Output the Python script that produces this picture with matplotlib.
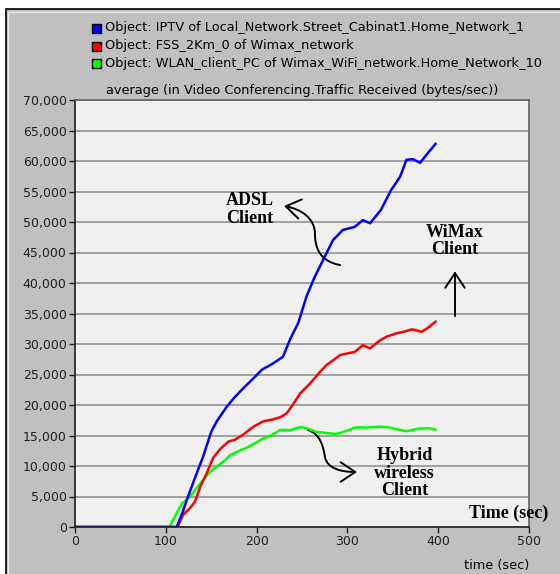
import matplotlib
matplotlib.use("Agg")
import matplotlib.pyplot as plt
from matplotlib.patches import Rectangle, FancyArrowPatch
from matplotlib.path import Path
from matplotlib.ticker import FuncFormatter, MultipleLocator

# time (sec) / traffic received (bytes/sec) for each node
iptv_t = [0, 112, 118, 123, 134, 141, 150, 156, 167, 176, 185, 198, 206, 218, 229, 237, 246,
          255, 264, 275, 284, 295, 308, 317, 325, 337, 348, 358, 365, 372, 380, 387, 397]
iptv_v = [0, 0, 2200, 4400, 8800, 11500, 15600, 17300, 19700, 21300, 22700, 24600, 25800, 26800,
          27900, 30800, 33500, 37800, 41000, 44300, 47000, 48700, 49200, 50300, 49800, 52000,
          55200, 57400, 60200, 60300, 59700, 61000, 62800]

fss_t = [0, 113, 119, 126, 132, 138, 145, 152, 160, 169, 176, 185, 196, 207, 218, 226, 233, 241,
         248, 259, 270, 277, 285, 292, 308, 317, 325, 336, 343, 354, 362, 371, 382, 390, 397]
fss_v = [0, 0, 2000, 3000, 4100, 6600, 8800, 11300, 12800, 14000, 14300, 15100, 16400, 17300,
         17650, 18000, 18600, 20300, 21900, 23550, 25450, 26550, 27400, 28200, 28700, 29800,
         29300, 30600, 31200, 31750, 32000, 32400, 32000, 32800, 33650]

wlan_t = [0, 104, 111, 118, 125, 132, 140, 149, 156, 165, 171, 180, 189, 198, 207, 216, 226, 238,
          248, 255, 266, 277, 288, 300, 310, 322, 336, 345, 355, 365, 380, 390, 397]
wlan_v = [0, 0, 2000, 3900, 4700, 6000, 7500, 9100, 9900, 10900, 11800, 12400, 13000, 13700,
          14500, 15000, 15900, 15900, 16400, 16200, 15600, 15400, 15250, 15800, 16350, 16300,
          16450, 16350, 16000, 15700, 16150, 16200, 15950]

legend_labels = [
    "Object: IPTV of Local_Network.Street_Cabinat1.Home_Network_1",
    "Object: FSS_2Km_0 of Wimax_network",
    "Object: WLAN_client_PC of Wimax_WiFi_network.Home_Network_10",
]
colors = ["#0000ff", "#ff0000", "#00ff00"]

W, H = 560, 574
fig = plt.figure(figsize=(W / 100, H / 100), dpi=100, facecolor="white")

# grey panel with dark frame
fig.patches.append(Rectangle((5.5 / W, -0.1), 1.2, 1 - 8.5 / H + 0.1, transform=fig.transFigure,
                             facecolor="#c0c0c0", edgecolor="black", linewidth=1.2, zorder=-10))
fig.patches.append(Rectangle((7.5 / W, -0.1), 1.2, 1 - 11.5 / H + 0.1, transform=fig.transFigure,
                             facecolor="none", edgecolor="#e8e8e8", linewidth=1.0, zorder=-9))

ax = fig.add_axes([75 / W, 1 - 527 / H, (529 - 75) / W, (527 - 100) / H])
ax.set_facecolor("#f0f0f0")

ax.plot(wlan_t, wlan_v, color=colors[2], lw=1.8)
ax.plot(fss_t, fss_v, color=colors[1], lw=1.8)
ax.plot(iptv_t, iptv_v, color=colors[0], lw=1.8)

ax.set_xlim(0, 500)
ax.set_ylim(0, 70000)
ax.xaxis.set_major_locator(MultipleLocator(100))
ax.yaxis.set_major_locator(MultipleLocator(5000))
ax.yaxis.set_major_formatter(FuncFormatter(lambda v, p: f"{int(v):,}"))
ax.grid(axis="y", color="#9a9a9a", lw=1.3)
ax.set_axisbelow(True)
ax.tick_params(direction="out", length=4, width=1, labelsize=9, pad=2, colors="#202020")
for side in ["left", "bottom"]:
    ax.spines[side].set_color("#202020")
    ax.spines[side].set_linewidth(1.2)
for side in ["top", "right"]:
    ax.spines[side].set_color("#606060")
    ax.spines[side].set_linewidth(1.2)

ax.set_title("average (in Video Conferencing.Traffic Received (bytes/sec))", fontsize=9.3, pad=4)
ax.set_xlabel("time (sec)", fontsize=9.3, loc="right", labelpad=8)

# legend squares + labels
for i, (lab, c) in enumerate(zip(legend_labels, colors)):
    yc = 28 + i * 17.5
    fig.patches.append(Rectangle((92 / W, 1 - (yc + 5) / H), 9 / W, 9 / H, transform=fig.transFigure,
                                 facecolor=c, edgecolor="black", linewidth=1))
    fig.text(105 / W, 1 - yc / H, lab, fontsize=9.3, va="center", ha="left")

# hand-drawn style callouts
serif = dict(family="Liberation Serif", weight="bold", fontsize=13, ha="center", va="center",
             linespacing=1.05)
ax.text(192, 52000, "ADSL\nClient", **serif)
ax.text(418.5, 46900, "WiMax\nClient", **serif)
ax.text(363, 8850, "Hybrid\nwireless\nClient", **serif)
ax.text(478, 2300, "Time (sec)", clip_on=False, **serif)


def curved_arrow(verts, codes):
    arr = FancyArrowPatch(path=Path(verts, codes), arrowstyle="->,head_length=0.75,head_width=0.5",
                          mutation_scale=14, color="black", lw=1.4)
    ax.add_patch(arr)


C = Path.CURVE4
curved_arrow([(292, 42950), (270, 43500), (264.3, 45740), (264.3, 48000),
              (264.3, 50650), (249, 52100), (230.2, 52620)],
             [Path.MOVETO, C, C, C, C, C, C])
curved_arrow([(418.5, 34590), (418.5, 41900)], [Path.MOVETO, Path.LINETO])
curved_arrow([(256.6, 15900), (269.8, 15250), (273.1, 13440), (275.3, 11475),
              (277.5, 9670), (291.9, 9016), (310.6, 9016)],
             [Path.MOVETO, C, C, C, C, C, C])

fig.savefig("out.png", dpi=100, facecolor=fig.get_facecolor())
